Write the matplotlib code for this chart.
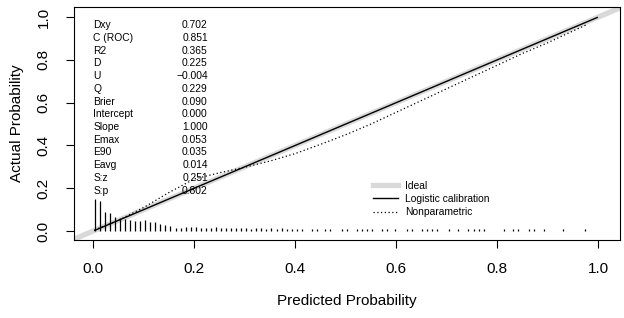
import matplotlib
matplotlib.use("Agg")
import matplotlib.pyplot as plt
from matplotlib.lines import Line2D
import numpy as np

plt.rcParams['font.family'] = ['Liberation Sans', 'DejaVu Sans']

# Statistics block
stat_labels = ["Dxy", "C (ROC)", "R2", "D", "U", "Q", "Brier", "Intercept",
               "Slope", "Emax", "E90", "Eavg", "S:z", "S:p"]
stat_values = ["0.702", "0.851", "0.365", "0.225", "\u22120.004", "0.229", "0.090",
               "0.000", "1.000", "0.053", "0.035", "0.014", "0.251", "0.802"]

# Logistic calibration (intercept 0, slope 1) over range of predictions
logistic_x = [0.003, 0.998]
logistic_y = [0.003, 0.998]

# Nonparametric calibration curve
nonpar_x = [0.003, 0.05, 0.10, 0.15, 0.20, 0.25, 0.30, 0.35, 0.40, 0.45, 0.50,
            0.55, 0.60, 0.65, 0.70, 0.75, 0.80, 0.85, 0.90, 0.95, 0.975]
nonpar_y = [0.005, 0.05, 0.11, 0.18, 0.243, 0.272, 0.298, 0.327, 0.362, 0.405, 0.45,
            0.50, 0.555, 0.61, 0.665, 0.72, 0.775, 0.83, 0.88, 0.935, 0.962]

# Spike histogram of predicted probabilities
spike_x = [0.003, 0.013, 0.023, 0.033, 0.043, 0.053, 0.063, 0.073, 0.083, 0.093,
           0.103, 0.113, 0.123, 0.133, 0.143, 0.153, 0.163, 0.173, 0.183, 0.193,
           0.203, 0.213, 0.223, 0.233, 0.243, 0.253, 0.263, 0.273, 0.283, 0.293,
           0.303, 0.313, 0.323, 0.333, 0.343, 0.353, 0.363, 0.373, 0.383, 0.393,
           0.403, 0.413, 0.433, 0.443, 0.459, 0.469, 0.492, 0.502, 0.522, 0.532,
           0.542, 0.552, 0.572, 0.582, 0.598, 0.621, 0.631, 0.651, 0.661, 0.671,
           0.681, 0.704, 0.723, 0.743, 0.753, 0.763, 0.773, 0.813, 0.832, 0.842,
           0.862, 0.872, 0.892, 0.931, 0.974]
spike_h = [0.148, 0.140, 0.090, 0.082, 0.067, 0.062, 0.055, 0.051, 0.048, 0.048,
           0.051, 0.040, 0.040, 0.033, 0.027, 0.022, 0.015, 0.014, 0.018, 0.018,
           0.017, 0.015, 0.016, 0.015, 0.018, 0.014, 0.015, 0.013, 0.015, 0.013,
           0.012, 0.010, 0.012, 0.013, 0.010, 0.012, 0.011, 0.013, 0.010, 0.011,
           0.011, 0.010, 0.009, 0.009, 0.009, 0.009, 0.011, 0.009, 0.009, 0.009,
           0.011, 0.009, 0.009, 0.009, 0.009, 0.009, 0.009, 0.009, 0.009, 0.009,
           0.011, 0.009, 0.009, 0.009, 0.009, 0.011, 0.009, 0.009, 0.009, 0.009,
           0.009, 0.009, 0.009, 0.009, 0.009]

ticks = [0.0, 0.2, 0.4, 0.6, 0.8, 1.0]
tick_labels = ["0.0", "0.2", "0.4", "0.6", "0.8", "1.0"]

fig = plt.figure(figsize=(6.24, 3.18), dpi=100)
ax = fig.add_axes([74/624, 78/318, 546/624, 233/318])
ax.set_xlim(-0.038, 1.043)
ax.set_ylim(-0.042, 1.047)

ideal_color = '#d9d9d9'
ax.axline((0, 0), slope=1, color=ideal_color, lw=3.8, zorder=1)
ax.plot(logistic_x, logistic_y, color='black', lw=1.0, zorder=3)
ax.plot(nonpar_x, nonpar_y, color='black', lw=0.9, linestyle=(0, (1, 2)), zorder=3)
ax.vlines(spike_x, 0, spike_h, color='black', lw=0.9, zorder=2)

# statistics text
y0 = 0.962
dy = 0.0595
for i, (lab, val) in enumerate(zip(stat_labels, stat_values)):
    ax.text(0.0, y0 - i*dy, lab, fontsize=7.4, ha='left', va='center', zorder=4)
    ax.text(0.227, y0 - i*dy, val, fontsize=7.4, ha='right', va='center', zorder=4)

handles = [Line2D([], [], color=ideal_color, lw=3.8),
           Line2D([], [], color='black', lw=1.0),
           Line2D([], [], color='black', lw=0.9, linestyle=(0, (1, 2)))]
ax.legend(handles, ["Ideal", "Logistic calibration", "Nonparametric"],
          loc='upper left', bbox_to_anchor=((373 - 74)/546, (240 - 181)/233),
          frameon=False, fontsize=7.4, handlelength=2.4, handletextpad=0.7,
          labelspacing=0.3, borderpad=0, borderaxespad=0)

ax.set_xticks(ticks)
ax.set_xticklabels(tick_labels)
ax.set_yticks(ticks)
ax.set_yticklabels(tick_labels, rotation=90, va='center')
ax.tick_params(axis='both', direction='out', length=6, width=0.8, labelsize=11)
ax.tick_params(axis='x', pad=10)
ax.tick_params(axis='y', pad=11)
for s in ax.spines.values():
    s.set_linewidth(0.8)
    s.set_color('black')

ax.set_xlabel("Predicted Probability", fontsize=11, labelpad=13)
ax.set_ylabel("Actual Probability", fontsize=11, labelpad=9)

fig.savefig("out.png", dpi=100)
